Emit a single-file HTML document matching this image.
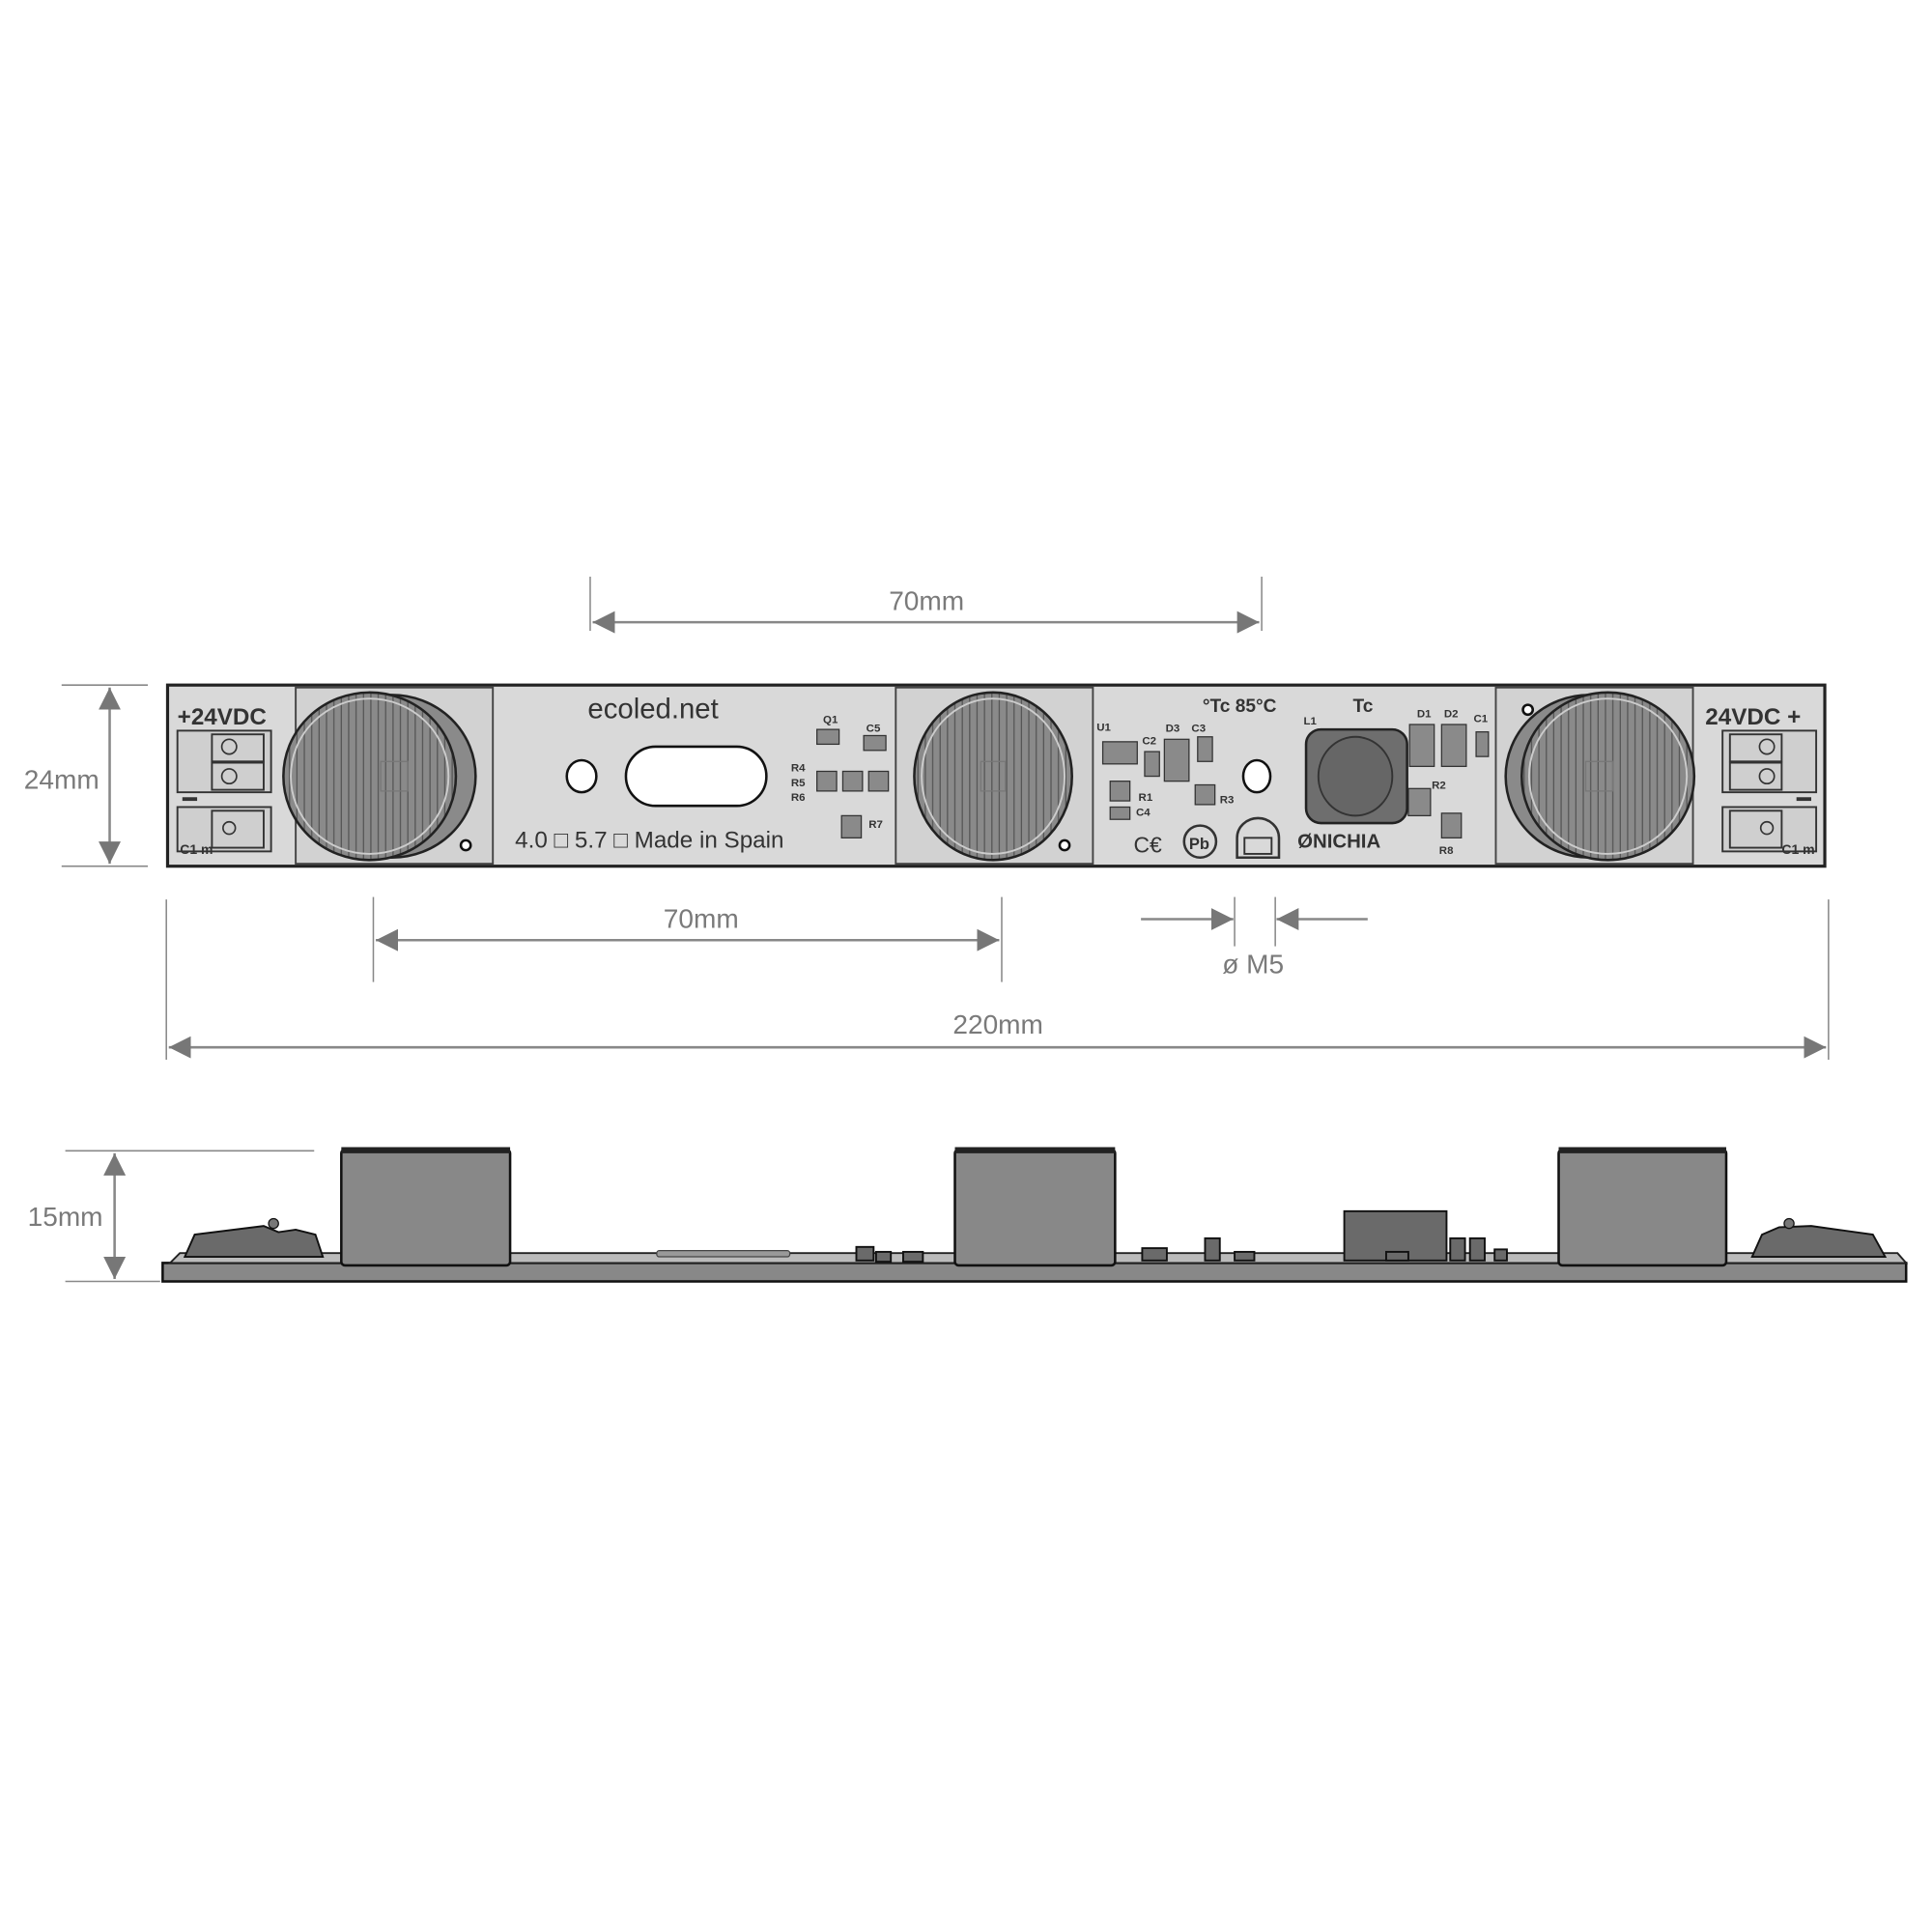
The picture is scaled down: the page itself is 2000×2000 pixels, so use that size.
<!DOCTYPE html>
<html><head><meta charset="utf-8"><style>
html,body{margin:0;padding:0;background:#fff;}
svg{display:block;}
.dim{font-family:"Liberation Sans",sans-serif;font-size:22px;fill:#7a7a7a;}
.lbl{font-family:"Liberation Sans",sans-serif;fill:#333;}
</style></head><body>
<svg width="2000" height="2000" viewBox="0 0 1568 1568" xmlns="http://www.w3.org/2000/svg">
<defs>
<marker id="a" viewBox="0 0 10 10" refX="10" refY="5" markerWidth="9" markerHeight="9" orient="auto-start-reverse"><path d="M0,0 L10,5 L0,10 z" fill="#777"/></marker>
<pattern id="st" width="6" height="10" patternUnits="userSpaceOnUse"><rect width="6" height="10" fill="#8a8a8a"/><line x1="1" y1="0" x2="1" y2="10" stroke="#555" stroke-width="1"/></pattern>
</defs>
<g stroke="#888" stroke-width="1.2" fill="none">
<line x1="479" y1="468" x2="479" y2="512"/><line x1="1024" y1="468" x2="1024" y2="512"/>
<line x1="481" y1="505" x2="1022" y2="505" stroke-width="2" marker-start="url(#a)" marker-end="url(#a)"/>
<line x1="50" y1="556" x2="120" y2="556"/><line x1="50" y1="703" x2="120" y2="703"/>
<line x1="89" y1="558" x2="89" y2="701" stroke-width="2" marker-start="url(#a)" marker-end="url(#a)"/>
<line x1="303" y1="728" x2="303" y2="797"/><line x1="813" y1="728" x2="813" y2="797"/>
<line x1="305" y1="763" x2="811" y2="763" stroke-width="2" marker-start="url(#a)" marker-end="url(#a)"/>
<line x1="1002" y1="728" x2="1002" y2="768"/><line x1="1035" y1="728" x2="1035" y2="768"/>
<line x1="926" y1="746" x2="1001" y2="746" stroke-width="2" marker-end="url(#a)"/>
<line x1="1110" y1="746" x2="1036" y2="746" stroke-width="2" marker-end="url(#a)"/>
<line x1="135" y1="730" x2="135" y2="860"/><line x1="1484" y1="730" x2="1484" y2="860"/>
<line x1="137" y1="850" x2="1482" y2="850" stroke-width="2" marker-start="url(#a)" marker-end="url(#a)"/>
<line x1="53" y1="934" x2="255" y2="934"/><line x1="53" y1="1040" x2="130" y2="1040"/>
<line x1="93" y1="936" x2="93" y2="1038" stroke-width="2" marker-start="url(#a)" marker-end="url(#a)"/>
</g>
<text class="dim" x="752" y="495" text-anchor="middle">70mm</text>
<text class="dim" x="50" y="640" text-anchor="middle">24mm</text>
<text class="dim" x="569" y="753" text-anchor="middle">70mm</text>
<text class="dim" x="1017" y="790" text-anchor="middle">ø M5</text>
<text class="dim" x="810" y="839" text-anchor="middle">220mm</text>
<text class="dim" x="53" y="995" text-anchor="middle">15mm</text>

<rect x="136" y="556" width="1345" height="147" fill="#d9d9d9" stroke="#222" stroke-width="2.5"/>
<g fill="#d2d2d2" stroke="#444" stroke-width="1.5">
<rect x="240" y="558" width="160" height="143"/>
<rect x="727" y="558" width="160" height="143"/>
<rect x="1214" y="558" width="160" height="143"/>
</g>
<ellipse cx="318" cy="630" rx="68" ry="66" fill="#8a8a8a" stroke="#222" stroke-width="2"/>
<ellipse cx="300" cy="630" rx="70" ry="68" fill="url(#st)" stroke="#222" stroke-width="2"/>
<ellipse cx="300" cy="630" rx="64" ry="63" fill="none" stroke="#ccc" stroke-width="1.5"/>
<rect x="309" y="618" width="22" height="24" fill="none" stroke="#777"/>
<ellipse cx="806" cy="630" rx="64" ry="68" fill="url(#st)" stroke="#222" stroke-width="2"/>
<ellipse cx="806" cy="630" rx="58" ry="63" fill="none" stroke="#ccc" stroke-width="1.5"/>
<rect x="796" y="618" width="20" height="24" fill="none" stroke="#777"/>
<ellipse cx="1290" cy="630" rx="68" ry="66" fill="#8a8a8a" stroke="#222" stroke-width="2"/>
<ellipse cx="1305" cy="630" rx="70" ry="68" fill="url(#st)" stroke="#222" stroke-width="2"/>
<ellipse cx="1305" cy="630" rx="64" ry="63" fill="none" stroke="#ccc" stroke-width="1.5"/>
<rect x="1287" y="618" width="22" height="24" fill="none" stroke="#777"/>
<g fill="#fff" stroke="#111" stroke-width="2">
<circle cx="378" cy="686" r="4"/><circle cx="864" cy="686" r="4"/><circle cx="1240" cy="576" r="4"/>
<ellipse cx="472" cy="630" rx="12" ry="13"/>
<rect x="508" y="606" width="114" height="48" rx="24"/>
<ellipse cx="1020" cy="630" rx="11" ry="13"/>
</g>
<g fill="#cfcfcf" stroke="#333" stroke-width="1.5">
<rect x="144" y="593" width="76" height="50"/><rect x="172" y="596" width="42" height="22"/><rect x="172" y="619" width="42" height="22"/>
<rect x="144" y="655" width="76" height="36"/><rect x="172" y="658" width="42" height="30"/>
<rect x="1398" y="593" width="76" height="50"/><rect x="1404" y="596" width="42" height="22"/><rect x="1404" y="619" width="42" height="22"/>
<rect x="1398" y="655" width="76" height="36"/><rect x="1404" y="658" width="42" height="30"/>
</g>
<g fill="none" stroke="#333" stroke-width="1.3">
<circle cx="186" cy="606" r="6"/><circle cx="186" cy="630" r="6"/><circle cx="186" cy="672" r="5"/>
<circle cx="1434" cy="606" r="6"/><circle cx="1434" cy="630" r="6"/><circle cx="1434" cy="672" r="5"/>
</g>
<rect x="148" y="647" width="12" height="3" fill="#333"/><rect x="1458" y="647" width="12" height="3" fill="#333"/>
<text class="lbl" x="144" y="588" font-size="19" font-weight="bold">+24VDC</text>
<text class="lbl" x="1384" y="588" font-size="19" font-weight="bold">24VDC +</text>
<text class="lbl" x="146" y="693" font-size="11" font-weight="bold">C1 m</text>
<text class="lbl" x="1446" y="693" font-size="11" font-weight="bold">C1 m</text>
<text class="lbl" x="477" y="583" font-size="23">ecoled.net</text>
<text class="lbl" x="418" y="688" font-size="19">4.0 □  5.7 □ Made in Spain</text>
<text class="lbl" x="976" y="578" font-size="15" font-weight="bold">°Tc  85°C</text>
<text class="lbl" x="1098" y="578" font-size="15" font-weight="bold">Tc</text>
<text class="lbl" x="1053" y="688" font-size="16" font-weight="bold">ØNICHIA</text>
<text class="lbl" x="920" y="692" font-size="18">C€</text>
<circle cx="974" cy="683" r="13" fill="none" stroke="#333" stroke-width="2"/>
<text class="lbl" x="965" y="689" font-size="13" font-weight="bold">Pb</text>
<path d="M1004,696 V680 A17,16 0 0 1 1038,680 V696 Z" fill="none" stroke="#333" stroke-width="2"/>
<rect x="1010" y="680" width="22" height="13" fill="none" stroke="#333" stroke-width="1.5"/>
<g fill="#8a8a8a" stroke="#333" stroke-width="1">
<rect x="663" y="592" width="18" height="12"/><rect x="701" y="597" width="18" height="12"/>
<rect x="663" y="626" width="16" height="16"/><rect x="684" y="626" width="16" height="16"/><rect x="705" y="626" width="16" height="16"/>
<rect x="683" y="662" width="16" height="18"/>
<rect x="895" y="602" width="28" height="18"/><rect x="929" y="610" width="12" height="20"/>
<rect x="945" y="600" width="20" height="34"/><rect x="972" y="598" width="12" height="20"/>
<rect x="901" y="634" width="16" height="16"/><rect x="901" y="655" width="16" height="10"/><rect x="970" y="637" width="16" height="16"/>
<rect x="1144" y="588" width="20" height="34"/><rect x="1170" y="588" width="20" height="34"/><rect x="1198" y="594" width="10" height="20"/>
<rect x="1143" y="640" width="18" height="22"/><rect x="1170" y="660" width="16" height="20"/>
</g>
<rect x="1060" y="592" width="82" height="76" rx="12" fill="#6e6e6e" stroke="#222" stroke-width="2"/>
<ellipse cx="1100" cy="630" rx="30" ry="32" fill="#666" stroke="#333" stroke-width="1.5"/>
<g class="lbl" font-size="9" font-weight="bold">
<text x="668" y="587">Q1</text><text x="703" y="594">C5</text><text x="642" y="626">R4</text><text x="642" y="638">R5</text><text x="642" y="650">R6</text><text x="705" y="672">R7</text>
<text x="890" y="593">U1</text><text x="927" y="604">C2</text><text x="946" y="594">D3</text><text x="967" y="594">C3</text>
<text x="924" y="650">R1</text><text x="922" y="662">C4</text><text x="990" y="652">R3</text>
<text x="1058" y="588">L1</text><text x="1150" y="582">D1</text><text x="1172" y="582">D2</text><text x="1196" y="586">C1</text>
<text x="1162" y="640">R2</text><text x="1168" y="693">R8</text>
</g>

<rect x="132" y="1025" width="1415" height="15" fill="#888" stroke="#111" stroke-width="2"/>
<polygon points="138,1025 146,1017 1540,1017 1547,1025" fill="#bbb" stroke="#222" stroke-width="1.5"/>
<g fill="#888" stroke="#111" stroke-width="2">
<rect x="277" y="933" width="137" height="94" rx="3"/>
<rect x="775" y="933" width="130" height="94" rx="3"/>
<rect x="1265" y="933" width="136" height="94" rx="3"/>
</g>
<g fill="#222"><rect x="277" y="931" width="137" height="5"/><rect x="775" y="931" width="130" height="5"/><rect x="1265" y="931" width="136" height="5"/></g>
<g fill="#6a6a6a" stroke="#111" stroke-width="1.5">
<path d="M150,1020 L158,1002 L214,995 L226,1000 L240,998 L256,1002 L262,1020 Z"/>
<path d="M1422,1020 L1430,1002 L1444,996 L1470,995 L1520,1002 L1530,1020 Z"/>
<rect x="1091" y="983" width="83" height="40"/>
<rect x="1125" y="1016" width="18" height="7"/>
<rect x="695" y="1012" width="14" height="11"/><rect x="711" y="1016" width="12" height="8"/><rect x="733" y="1016" width="16" height="8"/>
<rect x="927" y="1013" width="20" height="10"/><rect x="978" y="1005" width="12" height="18"/><rect x="1002" y="1016" width="16" height="7"/>
<rect x="1177" y="1005" width="12" height="18"/><rect x="1193" y="1005" width="12" height="18"/><rect x="1213" y="1014" width="10" height="9"/>
</g>
<circle cx="222" cy="993" r="4" fill="#777" stroke="#111"/><circle cx="1452" cy="993" r="4" fill="#777" stroke="#111"/>
<rect x="533" y="1015" width="108" height="5" rx="2" fill="#999" stroke="#444"/>
</svg>
</body></html>
